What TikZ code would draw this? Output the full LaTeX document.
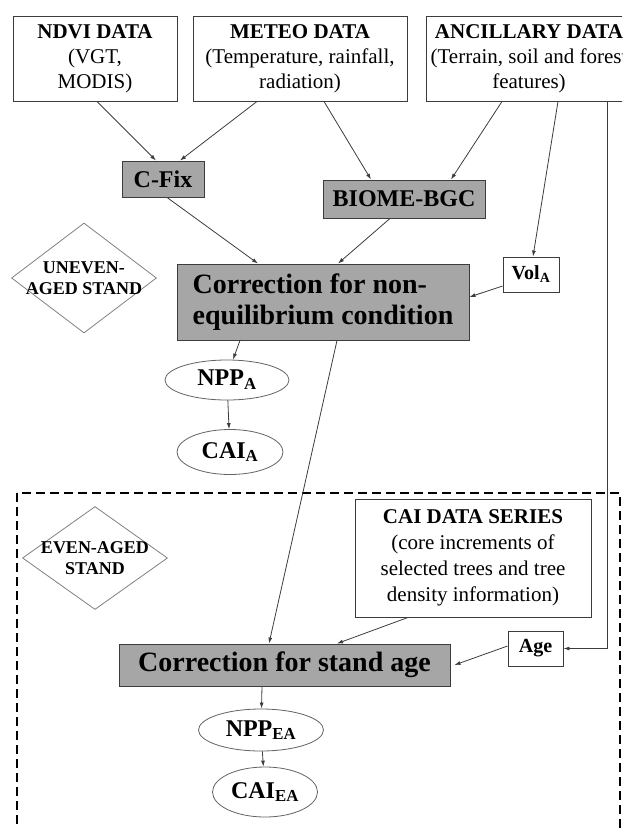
\documentclass[tikz,border=0pt]{standalone}
\usepackage{fontspec}
\setmainfont{Liberation Serif}
\usetikzlibrary{shapes.geometric,arrows.meta}
\definecolor{boxgray}{RGB}{166,166,166}
\definecolor{linegray}{RGB}{60,60,60}
\begin{document}
\begin{tikzpicture}[x=1pt, y=-1pt, every node/.style={font=\fontsize{21}{25}\selectfont}]
  \tikzstyle{src}=[draw=linegray, line width=0.9pt, align=center, inner sep=2pt, minimum height=85pt]
  \tikzstyle{model}=[draw=linegray, line width=0.9pt, fill=boxgray, font=\fontsize{24}{28}\selectfont\bfseries, inner sep=0pt]
  \tikzstyle{corr}=[model, font=\fontsize{28}{31}\selectfont\bfseries, align=left]
  \tikzstyle{result}=[draw=linegray!80, line width=0.8pt, ellipse, font=\fontsize{24}{28}\selectfont\bfseries, inner sep=0pt]
  \tikzstyle{tag}=[draw=linegray, line width=0.9pt, font=\fontsize{20}{24}\selectfont\bfseries, inner sep=0pt]
  \tikzstyle{dia}=[draw=gray, line width=0.8pt, diamond, inner sep=0pt]
  \tikzstyle{diatxt}=[font=\fontsize{18}{21}\selectfont\bfseries, align=center]
  \tikzstyle{arr}=[draw=linegray, line width=0.8pt, -{Latex[length=6pt,width=4pt]}]
  \tikzstyle{dashbox}=[line width=2.2pt, dash pattern=on 9pt off 5pt]
  \useasboundingbox (0,0) rectangle (622,828);
  \clip (0,0) rectangle (622,828);
  \node[src, minimum width=164pt] (ndvi)  at (95,58.5)  {\textbf{NDVI DATA}\\(VGT,\\MODIS)};
  \node[src, minimum width=214pt] (meteo) at (300,58.5) {\textbf{METEO DATA}\\(Temperature, rainfall,\\radiation)};
  \node[src, minimum width=206pt] (ancil) at (529,58.5) {\textbf{ANCILLARY DATA}\\(Terrain, soil and forest\\features)};
  \node[model, minimum width=82pt, minimum height=36pt]  (cfix)  at (163,179) {C-Fix};
  \node[model, minimum width=162pt, minimum height=38pt] (biome) at (404,199) {BIOME-BGC};
  \node[dia, minimum width=145pt, minimum height=110pt] (uneven) at (84,278) {};
  \node[diatxt] (uneventxt) at (uneven) {UNEVEN-\\AGED STAND};
  \node[corr, minimum width=292pt, minimum height=76pt] (corrne) at (323,302) {Correction for non-\\equilibrium condition};
  \node[tag, minimum width=56pt, minimum height=35pt] (vol) at (531,274.5) {Vol\textsubscript{A}};
  \node[result, minimum width=124pt, minimum height=40pt] (nppa) at (227,380) {NPP\textsubscript{A}};
  \node[result, minimum width=106pt, minimum height=45pt] (caia) at (230,452) {CAI\textsubscript{A}};
  \draw[dashbox] (17,493) rectangle (620,835);
  \node[dia, minimum width=145pt, minimum height=103pt] (even) at (95,558) {};
  \node[diatxt] (eventxt) at (even) {EVEN-AGED\\STAND};
  \node[src, minimum width=236pt, minimum height=118pt, font=\fontsize{21}{26}\selectfont] (caidata) at (473,558)
    {\textbf{CAI DATA SERIES}\\(core increments of\\selected trees and tree\\density information)};
  \node[tag, minimum width=55pt, minimum height=35pt] (age) at (535.5,648.5) {Age};
  \node[model, minimum width=331pt, minimum height=42pt, font=\fontsize{28}{31}\selectfont\bfseries] (corrsa) at (284.5,665) {Correction for stand age};
  \node[result, minimum width=125pt, minimum height=42pt] (nppea) at (261,730) {NPP\textsubscript{EA}};
  \node[result, minimum width=105pt, minimum height=50pt] (caiea) at (265,792) {CAI\textsubscript{EA}};
  \draw[arr] ([xshift=2pt]ndvi.south) -- ([xshift=-7pt]cfix.north);
  \draw[arr] ([xshift=-43pt]meteo.south) -- ([xshift=17pt]cfix.north);
  \draw[arr] ([xshift=24pt]meteo.south) -- ([xshift=-33pt]biome.north);
  \draw[arr] ([xshift=-27pt]ancil.south) -- ([xshift=47pt]biome.north);
  \draw[arr] ([xshift=29pt]ancil.south) -- ([xshift=2pt]vol.north);
  \draw[arr] ([xshift=78pt]ancil.south) |- (age.east);
  \draw[arr] ([xshift=4pt]cfix.south) -- ([xshift=-65pt]corrne.north);
  \draw[arr] ([xshift=-14pt]biome.south) -- ([xshift=15pt]corrne.north);
  \draw[arr] ([yshift=-11.5pt]vol.west) -- ([yshift=5pt]corrne.east);
  \draw[arr] ([xshift=-83pt]corrne.south) -- ([xshift=6pt]nppa.north);
  \draw[arr] (nppa) -- (caia);
  \draw[arr] ([xshift=14pt]corrne.south) -- ([xshift=-15.5pt]corrsa.north);
  \draw[arr] ([xshift=-65pt]caidata.south) -- ([xshift=52.5pt]corrsa.north);
  \draw[arr] ([yshift=2.5pt]age.west) -- ([xshift=4pt]corrsa.east);
  \draw[arr] ([xshift=-22.5pt]corrsa.south) -- (nppea);
  \draw[arr] (nppea) -- (caiea);
\end{tikzpicture}
\end{document}
